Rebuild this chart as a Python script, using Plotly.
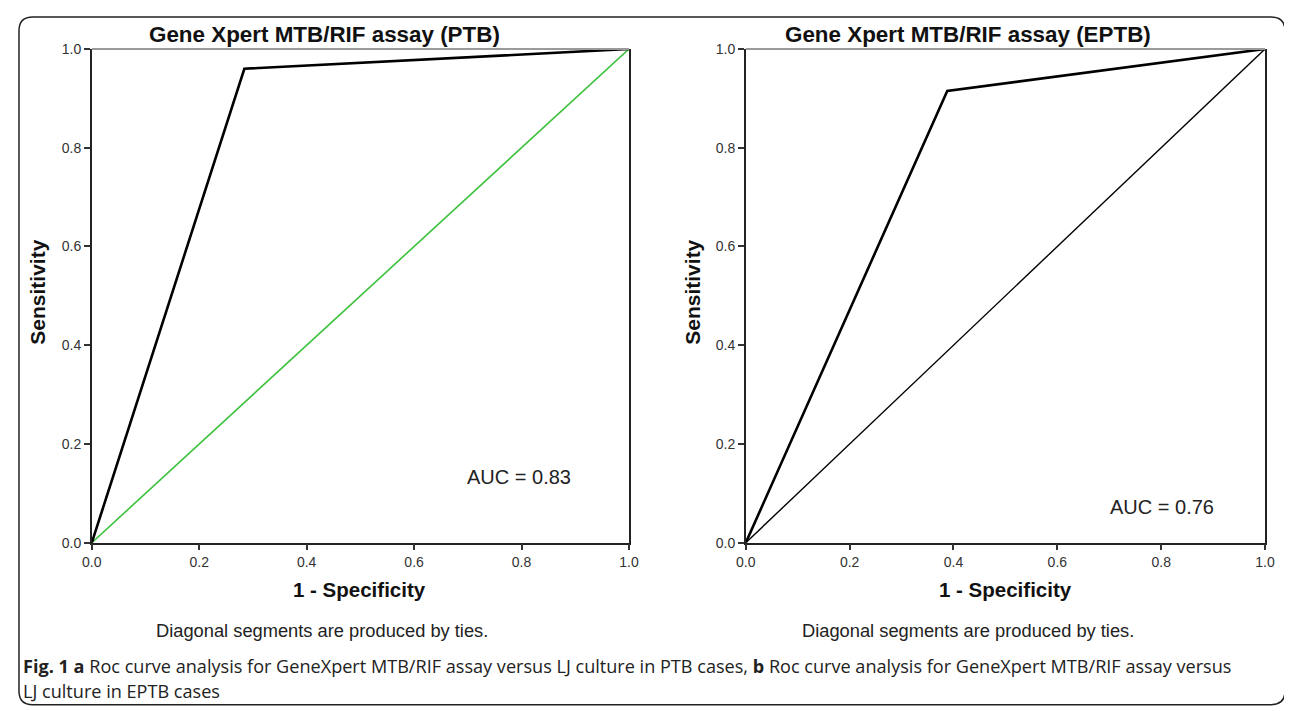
import plotly.graph_objects as go

W, H = 1292, 711

# Data
ptb_fpr = [0.0, 0.284, 1.0]
ptb_sens = [0.0, 0.960, 1.0]
eptb_fpr = [0.0, 0.388, 1.0]
eptb_sens = [0.0, 0.915, 1.0]
ref_line = [0.0, 1.0]
ticks = [0.0, 0.2, 0.4, 0.6, 0.8, 1.0]
titles = ["Gene Xpert MTB/RIF assay (PTB)", "Gene Xpert MTB/RIF assay (EPTB)"]
auc_texts = ["AUC = 0.83", "AUC = 0.76"]

# mapping from target-picture pixels to figure pixels (page offset / scaling)
SX, OX = 0.986, 16.1
SY, OY = 0.978, 14.0


def px(x):
    return max(0.0, (x - OX) / SX) / W


def py(y):
    return 1 - max(0.0, (y - OY) / SY) / H


fig = go.Figure()

# left panel
fig.add_trace(go.Scatter(x=ref_line, y=ref_line, mode="lines",
                         line=dict(color="#3cc13c", width=1.6),
                         xaxis="x", yaxis="y", showlegend=False, hoverinfo="skip"))
fig.add_trace(go.Scatter(x=ptb_fpr, y=ptb_sens, mode="lines",
                         line=dict(color="black", width=2.6),
                         xaxis="x", yaxis="y", showlegend=False))
# right panel
fig.add_trace(go.Scatter(x=ref_line, y=ref_line, mode="lines",
                         line=dict(color="black", width=1.4),
                         xaxis="x2", yaxis="y2", showlegend=False, hoverinfo="skip"))
fig.add_trace(go.Scatter(x=eptb_fpr, y=eptb_sens, mode="lines",
                         line=dict(color="black", width=2.6),
                         xaxis="x2", yaxis="y2", showlegend=False))

tickfont = dict(family="Liberation Sans, Arial, sans-serif", size=14, color="#333")
axis_common = dict(range=[0, 1], tickvals=ticks, ticktext=[f"{t:.1f}" for t in ticks],
                   ticks="outside", ticklen=6, tickwidth=1.5, tickcolor="#333",
                   showgrid=False, zeroline=False, showline=True, linecolor="#222",
                   linewidth=1.5, tickfont=tickfont, fixedrange=True)

L = dict(x0=90, x1=628)
R = dict(x0=745, x1=1265)
ytop, ybot = 47, 541

fig.update_layout(
    width=W, height=H, margin=dict(l=0, r=0, t=0, b=0),
    paper_bgcolor="white", plot_bgcolor="white",
    xaxis=dict(domain=[px(L["x0"]), px(L["x1"])], anchor="y", **axis_common),
    yaxis=dict(domain=[py(ybot), py(ytop)], anchor="x", mirror=True, **axis_common),
    xaxis2=dict(domain=[px(R["x0"]), px(R["x1"])], anchor="y2", **axis_common),
    yaxis2=dict(domain=[py(ybot), py(ytop)], anchor="x2", mirror=True, **axis_common),
)

# Top grey frame lines
for P in (L, R):
    fig.add_shape(type="line", xref="paper", yref="paper",
                  x0=px(P["x0"]), x1=px(P["x1"]), y0=py(ytop), y1=py(ytop),
                  line=dict(color="#9a9a9a", width=2))

ann_font = "Liberation Sans, Arial, sans-serif"


def text(t, x, y, size, color="#111", angle=0, xanchor="center"):
    fig.add_annotation(text=t, xref="paper", yref="paper", x=px(x), y=py(y),
                       xanchor=xanchor, yanchor="middle", showarrow=False,
                       textangle=angle, font=dict(family=ann_font, size=size, color=color))


# Titles
for xc, t in zip([323, 968], titles):
    text(f"<b>{t}</b>", xc, 33, 22.4)
# Axis titles
for xc in [358, 1005]:
    text("<b>1 - Specificity</b>", xc, 588, 20.5)
    text("Diagonal segments are produced by ties.", xc - 37, 629, 18.3, color="#222")
for xc in [36, 692]:
    text("<b>Sensitivity</b>", xc, 290, 21, angle=-90)
# AUC labels
for (xc, yc), t in zip([(518, 475), (1162, 505)], auc_texts):
    text(t, xc, yc, 20, color="#222")

# Caption
cap_font = "Open Sans, Noto Sans, sans-serif"
cap_x = 3.5 / W
fig.add_annotation(text="<b>Fig. 1 a</b> Roc curve analysis for GeneXpert MTB/RIF assay versus LJ culture in PTB cases, "
                        "<b>b</b> Roc curve analysis for GeneXpert MTB/RIF assay versus",
                   xref="paper", yref="paper", x=cap_x, y=py(664), xanchor="left", yanchor="middle",
                   showarrow=False, font=dict(family=cap_font, size=18.1, color="#222"))
fig.add_annotation(text="LJ culture in EPTB cases",
                   xref="paper", yref="paper", x=cap_x, y=py(689), xanchor="left", yanchor="middle",
                   showarrow=False, font=dict(family=cap_font, size=18.1, color="#222"))

# Rounded outer border
x0, x1, y0, y1, r = 8, 1285, 8, 703, 14
bx0, bx1 = px(x0) + 1 / W, px(x1)
by0, by1 = py(y0) - 1 / H, py(y1)
rx, ry = r / W, r / H
path = (f"M {bx0 + rx},{by0} L {bx1 - rx},{by0} Q {bx1},{by0} {bx1},{by0 - ry} "
        f"L {bx1},{by1 + ry} Q {bx1},{by1} {bx1 - rx},{by1} "
        f"L {bx0 + rx},{by1} Q {bx0},{by1} {bx0},{by1 + ry} "
        f"L {bx0},{by0 - ry} Q {bx0},{by0} {bx0 + rx},{by0} Z")
fig.add_shape(type="path", xref="paper", yref="paper", path=path,
              line=dict(color="#222", width=1.5), layer="below")

fig.write_html("out.html")
